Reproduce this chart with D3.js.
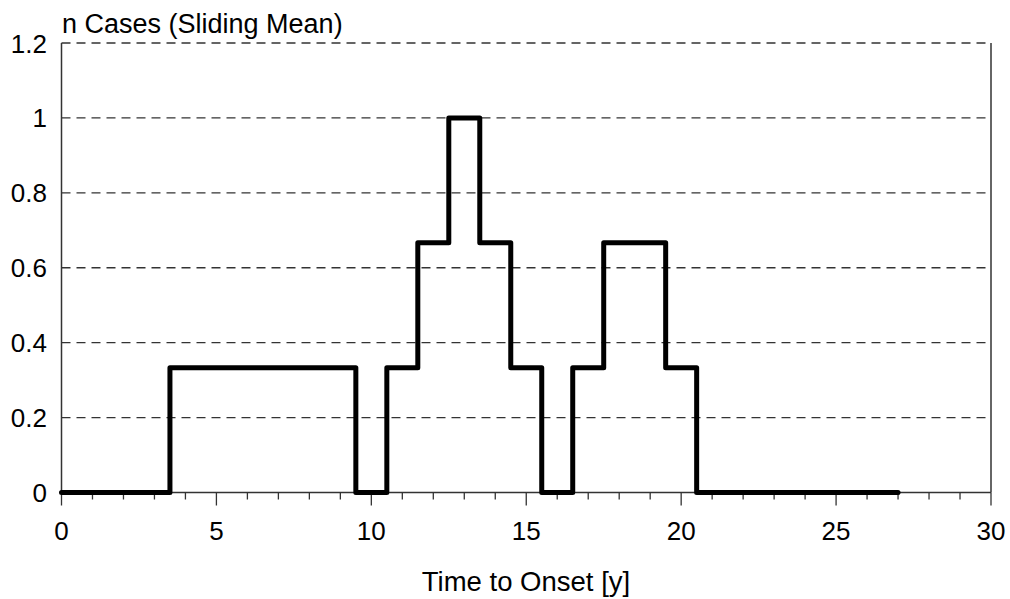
<!DOCTYPE html>
<html>
<head>
<meta charset="utf-8">
<script src="https://cdn.jsdelivr.net/npm/d3@7"></script>
<style>
  html, body { margin: 0; padding: 0; background: #fff; }
  svg { display: block; }
  text { font-family: "Liberation Sans", Arial, Helvetica, sans-serif; fill: #000; }
</style>
</head>
<body>
<svg id="chart" width="1010" height="599"></svg>
<script>
// Years to onset (integer bins) and the sliding-mean case count for each bin
const years = [0,1,2,3,4,5,6,7,8,9,10,11,12,13,14,15,16,17,18,19,20,21,22,23,24,25,26,27];
const meanCases = [0,0,0,0,1/3,1/3,1/3,1/3,1/3,1/3,0,1/3,2/3,1,2/3,1/3,0,1/3,2/3,2/3,1/3,0,0,0,0,0,0,0];
const xTicks = [0,5,10,15,20,25,30];
const xMinorTicks = d3.range(0, 31, 1);
const yTicks = [0,0.2,0.4,0.6,0.8,1,1.2];
const yTickLabels = ["0","0.2","0.4","0.6","0.8","1","1.2"];
const yTitle = "n Cases (Sliding Mean)";
const xTitle = "Time to Onset [y]";

const svg = d3.select("#chart");
const plotLeft = 61.5, plotRight = 991, plotTop = 43, plotBottom = 492.5;

const x = d3.scaleLinear().domain([0, 30]).range([plotLeft, plotRight]);
const y = d3.scaleLinear().domain([0, 1.2]).range([plotBottom, plotTop]);

// Dashed horizontal gridlines
svg.append("g")
  .selectAll("line")
  .data(yTicks.filter(d => d > 0))
  .join("line")
  .attr("x1", plotLeft).attr("x2", plotRight)
  .attr("y1", d => y(d)).attr("y2", d => y(d))
  .attr("stroke", "#333")
  .attr("stroke-width", 1.3)
  .attr("stroke-dasharray", "9,6");

// Right frame edge
svg.append("line")
  .attr("x1", plotRight).attr("x2", plotRight)
  .attr("y1", plotTop).attr("y2", plotBottom)
  .attr("stroke", "#333").attr("stroke-width", 1.5);

// Left axis line and labels
svg.append("line")
  .attr("x1", plotLeft).attr("x2", plotLeft)
  .attr("y1", plotTop).attr("y2", plotBottom)
  .attr("stroke", "#333").attr("stroke-width", 1.5);

svg.append("g")
  .selectAll("text")
  .data(yTicks)
  .join("text")
  .attr("x", 47)
  .attr("y", d => y(d) + 9.5)
  .attr("text-anchor", "end")
  .attr("font-size", 26)
  .text((d, i) => yTickLabels[i]);

// Bottom axis: baseline, minor ticks each year, major ticks every 5
const xAxis = svg.append("g");
xAxis.append("line")
  .attr("x1", plotLeft).attr("x2", plotRight)
  .attr("y1", plotBottom).attr("y2", plotBottom)
  .attr("stroke", "#333").attr("stroke-width", 1.5);

xAxis.selectAll("line.minor")
  .data(xMinorTicks)
  .join("line")
  .attr("class", "minor")
  .attr("x1", d => x(d)).attr("x2", d => x(d))
  .attr("y1", plotBottom).attr("y2", d => plotBottom + (xTicks.includes(d) ? 13 : 7))
  .attr("stroke", "#333").attr("stroke-width", 1.3);

xAxis.selectAll("text")
  .data(xTicks)
  .join("text")
  .attr("x", d => x(d))
  .attr("y", 539.5)
  .attr("text-anchor", "middle")
  .attr("font-size", 26)
  .text(d => d);

// Step line of the sliding mean
const line = d3.line()
  .x((d, i) => x(years[i]))
  .y(d => y(d))
  .curve(d3.curveStep);

svg.append("path")
  .datum(meanCases)
  .attr("d", line)
  .attr("fill", "none")
  .attr("stroke", "#000")
  .attr("stroke-width", 5)
  .attr("stroke-linejoin", "round")
  .attr("stroke-linecap", "round");

// Titles
svg.append("text")
  .attr("x", 62).attr("y", 33)
  .attr("font-size", 27)
  .text(yTitle);

svg.append("text")
  .attr("x", 526).attr("y", 591)
  .attr("text-anchor", "middle")
  .attr("font-size", 27.5)
  .text(xTitle);
</script>
</body>
</html>
